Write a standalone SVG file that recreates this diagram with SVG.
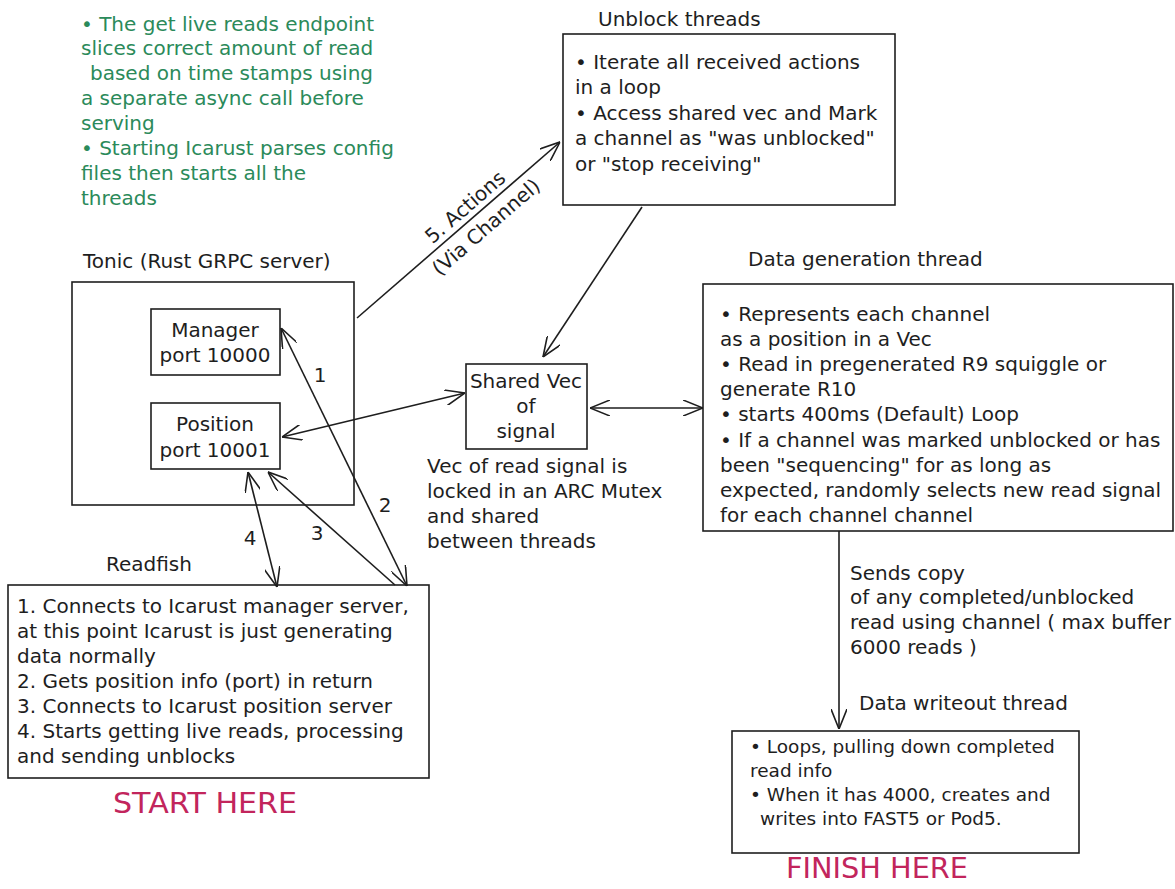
<svg xmlns="http://www.w3.org/2000/svg" width="1175" height="889" viewBox="0 0 1175 889">
<style>
.t{font-family:"DejaVu Sans","Liberation Sans",sans-serif;font-size:20px;fill:#1e1e1e}
.s{font-size:18.5px}
.g{fill:#2b8a5a}
.r{fill:#c2255c;font-size:28px}
.c{text-anchor:middle}
.box{fill:none;stroke:#1e1e1e;stroke-width:1.6}
.ln{fill:none;stroke:#1e1e1e;stroke-width:1.6}
</style>
<defs>
<marker id="ah" viewBox="0 0 20 16" refX="20" refY="8" markerWidth="20" markerHeight="16" markerUnits="userSpaceOnUse" orient="auto-start-reverse">
<path d="M0,0 L20,8 L0,16" fill="none" stroke="#1e1e1e" stroke-width="1.6"/>
</marker>
</defs>
<rect width="1175" height="889" fill="#ffffff"/>

<g id="notes">
<text class="t g" x="81" y="31">• The get live reads endpoint</text>
<text class="t g" x="81" y="55">slices correct amount of read</text>
<text class="t g" x="90" y="80">based on time stamps using</text>
<text class="t g" x="81" y="105">a separate async call before</text>
<text class="t g" x="81" y="130">serving</text>
<text class="t g" x="81" y="155">• Starting Icarust parses config</text>
<text class="t g" x="81" y="180">files then starts all the</text>
<text class="t g" x="81" y="205">threads</text>
</g>

<g id="unblock">
<text class="t" x="598" y="26">Unblock threads</text>
<rect class="box" x="563" y="34" width="332" height="171"/>
<text class="t" x="575" y="69">• Iterate all received actions</text>
<text class="t" x="575" y="94">in a loop</text>
<text class="t" x="575" y="120">• Access shared vec and Mark</text>
<text class="t" x="575" y="145">a channel as "was unblocked"</text>
<text class="t" x="575" y="171">or "stop receiving"</text>
</g>

<g id="tonic">
<text class="t" x="83" y="268">Tonic (Rust GRPC server)</text>
<rect class="box" x="72" y="282" width="282" height="223"/>
</g>

<g id="manager">
<rect class="box" x="151" y="309" width="129" height="66"/>
<text class="t c" x="215" y="337">Manager</text>
<text class="t c" x="215" y="362">port 10000</text>
</g>

<g id="position">
<rect class="box" x="151" y="403" width="129" height="66"/>
<text class="t c" x="215" y="431">Position</text>
<text class="t c" x="215" y="457">port 10001</text>
</g>

<g id="shared">
<rect class="box" x="466" y="364" width="121" height="85"/>
<text class="t c" x="526" y="388">Shared Vec</text>
<text class="t c" x="526" y="413">of</text>
<text class="t c" x="526" y="438">signal</text>
<text class="t" x="427" y="473">Vec of read signal is</text>
<text class="t" x="427" y="498">locked in an ARC Mutex</text>
<text class="t" x="427" y="523">and shared</text>
<text class="t" x="427" y="548">between threads</text>
</g>

<g id="datagen">
<text class="t" x="748" y="266">Data generation thread</text>
<rect class="box" x="703" y="284" width="470" height="247"/>
<text class="t" x="720" y="321">• Represents each channel</text>
<text class="t" x="720" y="346">as a position in a Vec</text>
<text class="t" x="720" y="371">• Read in pregenerated R9 squiggle or</text>
<text class="t" x="720" y="396">generate R10</text>
<text class="t" x="720" y="421">• starts 400ms (Default) Loop</text>
<text class="t" x="720" y="447">• If a channel was marked unblocked or has</text>
<text class="t" x="720" y="472">been "sequencing" for as long as</text>
<text class="t" x="720" y="497">expected, randomly selects new read signal</text>
<text class="t" x="720" y="522">for each channel channel</text>
</g>

<g id="readfish">
<text class="t" x="106" y="571">Readfish</text>
<rect class="box" x="8" y="585" width="421" height="193"/>
<text class="t" x="17" y="613">1. Connects to Icarust manager server,</text>
<text class="t" x="17" y="638">at this point Icarust is just generating</text>
<text class="t" x="17" y="663">data normally</text>
<text class="t" x="17" y="688">2. Gets position info (port) in return</text>
<text class="t" x="17" y="713">3. Connects to Icarust position server</text>
<text class="t" x="17" y="738">4. Starts getting live reads, processing</text>
<text class="t" x="17" y="763">and sending unblocks</text>
<text class="t r" x="113" y="813" textLength="184" lengthAdjust="spacingAndGlyphs">START HERE</text>
</g>

<g id="writeout">
<text class="t" x="859" y="710">Data writeout thread</text>
<rect class="box" x="732" y="731" width="347" height="122"/>
<text class="t s" x="750" y="753">• Loops, pulling down completed</text>
<text class="t s" x="750" y="777">read info</text>
<text class="t s" x="750" y="801">• When it has 4000, creates and</text>
<text class="t s" x="760" y="825">writes into FAST5 or Pod5.</text>
<text class="t r" x="786" y="878" textLength="182" lengthAdjust="spacingAndGlyphs">FINISH HERE</text>
</g>

<g id="connectors">
<line class="ln" x1="357" y1="318" x2="560" y2="142" marker-end="url(#ah)"/>
<text class="t" transform="translate(465,207) rotate(-41)" x="0" y="7" text-anchor="middle">5. Actions</text>
<text class="t" transform="translate(486,227) rotate(-41)" x="0" y="7" text-anchor="middle">(Via Channel)</text>
<line class="ln" x1="642" y1="207" x2="543" y2="357" marker-end="url(#ah)"/>
<line class="ln" x1="282" y1="437" x2="465" y2="393" marker-start="url(#ah)" marker-end="url(#ah)"/>
<line class="ln" x1="590" y1="408" x2="703" y2="408" marker-start="url(#ah)" marker-end="url(#ah)"/>
<line class="ln" x1="281" y1="328" x2="407" y2="586" marker-start="url(#ah)" marker-end="url(#ah)"/>
<text class="t c" x="320" y="382">1</text>
<text class="t c" x="385" y="512">2</text>
<line class="ln" x1="395" y1="585" x2="268" y2="472" marker-end="url(#ah)"/>
<text class="t c" x="317" y="540">3</text>
<line class="ln" x1="248" y1="472" x2="277" y2="587" marker-start="url(#ah)" marker-end="url(#ah)"/>
<text class="t c" x="250" y="545">4</text>
<line class="ln" x1="839" y1="531" x2="839" y2="729" marker-end="url(#ah)"/>
<text class="t" x="850" y="580">Sends copy</text>
<text class="t" x="850" y="604">of any completed/unblocked</text>
<text class="t" x="850" y="629">read using channel ( max buffer</text>
<text class="t" x="850" y="654">6000 reads )</text>
</g>
</svg>
